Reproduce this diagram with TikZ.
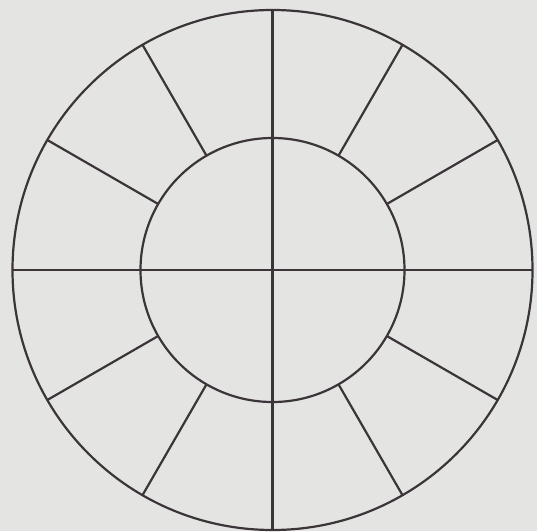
\documentclass[tikz,border=0pt]{standalone}
\begin{document}
\begin{tikzpicture}[x=1pt,y=1pt,
  ring/.style={circle,draw=linec,line width=2.2pt,inner sep=0pt,outer sep=0pt},
  spoke/.style={draw=linec,line width=2.2pt}]
\definecolor{linec}{HTML}{3B3539}
\definecolor{paper}{HTML}{E4E4E2}
\fill[paper] (0,0) rectangle (537,531);
\useasboundingbox (0,0) rectangle (537,531);
\coordinate (c) at (272.5,261);
\node[ring,minimum size=520pt] (outer) at (c) {};
\node[ring,minimum size=264pt] (inner) at (c) {};
\draw[spoke] (outer.180) -- (outer.0);
\draw[spoke] (outer.90) -- (outer.270);
\foreach \a in {30,60,120,150,210,240,300,330}
  \draw[spoke] (inner.\a) -- (outer.\a);
\end{tikzpicture}
\end{document}
